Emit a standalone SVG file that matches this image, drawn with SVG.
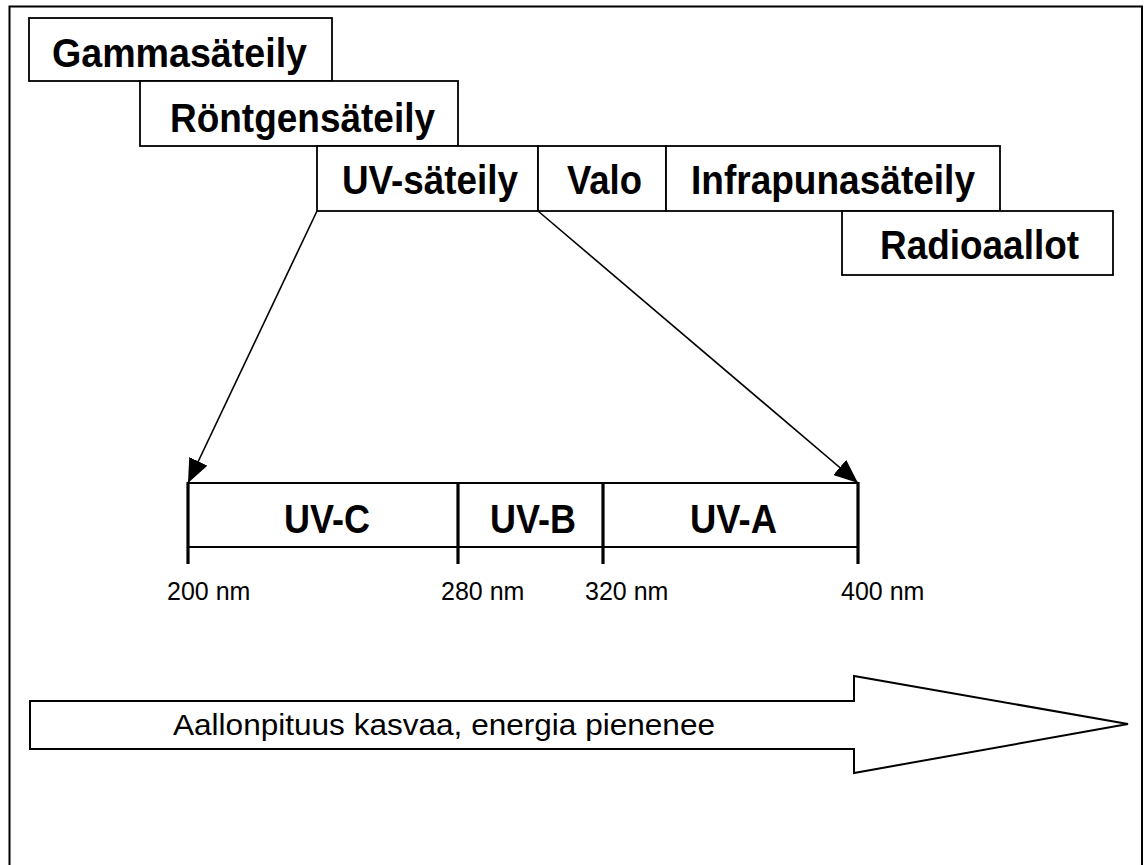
<svg xmlns="http://www.w3.org/2000/svg" width="1145" height="865" viewBox="0 0 1145 865">
<style>
.box{fill:#fff;stroke:#000;stroke-width:1.8}
.lb{font-family:"Liberation Sans",Arial,sans-serif;font-weight:bold;font-size:40px;fill:#000;text-anchor:middle}
.nm{font-family:"Liberation Sans",Arial,sans-serif;font-size:25px;fill:#000}
.ln{stroke:#000;stroke-width:1.6;fill:none}
.tick{stroke:#000;stroke-width:3.2}
.hl{stroke:#000;stroke-width:2}
</style>
<defs>
<marker id="ah" markerUnits="userSpaceOnUse" markerWidth="24" markerHeight="20" viewBox="0 0 24 20" refX="24" refY="10" orient="auto">
<path d="M0,0 L24,10 L0,20 Z" fill="#000"/>
</marker>
</defs>
<rect x="9.5" y="6.5" width="1132.5" height="880" fill="#fff" stroke="#000" stroke-width="2"/>
<g id="gamma"><rect class="box" x="29" y="18" width="303" height="63"/><text class="lb" x="179.5" y="67" textLength="255" lengthAdjust="spacingAndGlyphs">Gammasäteily</text></g>
<g id="rontgen"><rect class="box" x="140" y="81" width="318" height="65"/><text class="lb" x="302.5" y="132" textLength="265" lengthAdjust="spacingAndGlyphs">Röntgensäteily</text></g>
<g id="uv"><rect class="box" x="317" y="146" width="221" height="65"/><text class="lb" x="430" y="194" textLength="176" lengthAdjust="spacingAndGlyphs">UV-säteily</text></g>
<g id="valo"><rect class="box" x="538" y="146" width="128" height="65"/><text class="lb" x="604.5" y="194" textLength="75" lengthAdjust="spacingAndGlyphs">Valo</text></g>
<g id="infra"><rect class="box" x="666" y="146" width="334" height="65"/><text class="lb" x="833" y="194" textLength="284" lengthAdjust="spacingAndGlyphs">Infrapunasäteily</text></g>
<g id="radio"><rect class="box" x="842" y="211" width="271" height="64"/><text class="lb" x="979.5" y="259" textLength="199" lengthAdjust="spacingAndGlyphs">Radioaallot</text></g>
<g id="connectors">
<line class="ln" x1="317" y1="211" x2="188" y2="483" marker-end="url(#ah)"/>
<line class="ln" x1="538" y1="211" x2="858" y2="483" marker-end="url(#ah)"/>
</g>
<g id="uvband">
<line class="hl" x1="188" y1="483" x2="858" y2="483"/>
<line class="hl" x1="188" y1="547" x2="858" y2="547"/>
<line class="tick" x1="188" y1="482" x2="188" y2="564"/>
<line class="tick" x1="458" y1="482" x2="458" y2="564"/>
<line class="tick" x1="603" y1="482" x2="603" y2="564"/>
<line class="tick" x1="858" y1="482" x2="858" y2="564"/>
<text class="lb" x="327" y="533" textLength="86" lengthAdjust="spacingAndGlyphs">UV-C</text>
<text class="lb" x="533" y="533" textLength="86" lengthAdjust="spacingAndGlyphs">UV-B</text>
<text class="lb" x="733.5" y="533" textLength="87" lengthAdjust="spacingAndGlyphs">UV-A</text>
<text class="nm" x="167" y="600">200 nm</text>
<text class="nm" x="441" y="600">280 nm</text>
<text class="nm" x="585" y="600">320 nm</text>
<text class="nm" x="841" y="600">400 nm</text>
</g>
<g id="bigarrow">
<polygon points="30,701 854,701 854,676 1128,724 854,773 854,749 30,749" fill="#fff" stroke="#000" stroke-width="2"/>
<text font-family="Liberation Sans,Arial,sans-serif" font-size="30" x="173" y="735" textLength="542" lengthAdjust="spacingAndGlyphs">Aallonpituus kasvaa, energia pienenee</text>
</g>
</svg>
